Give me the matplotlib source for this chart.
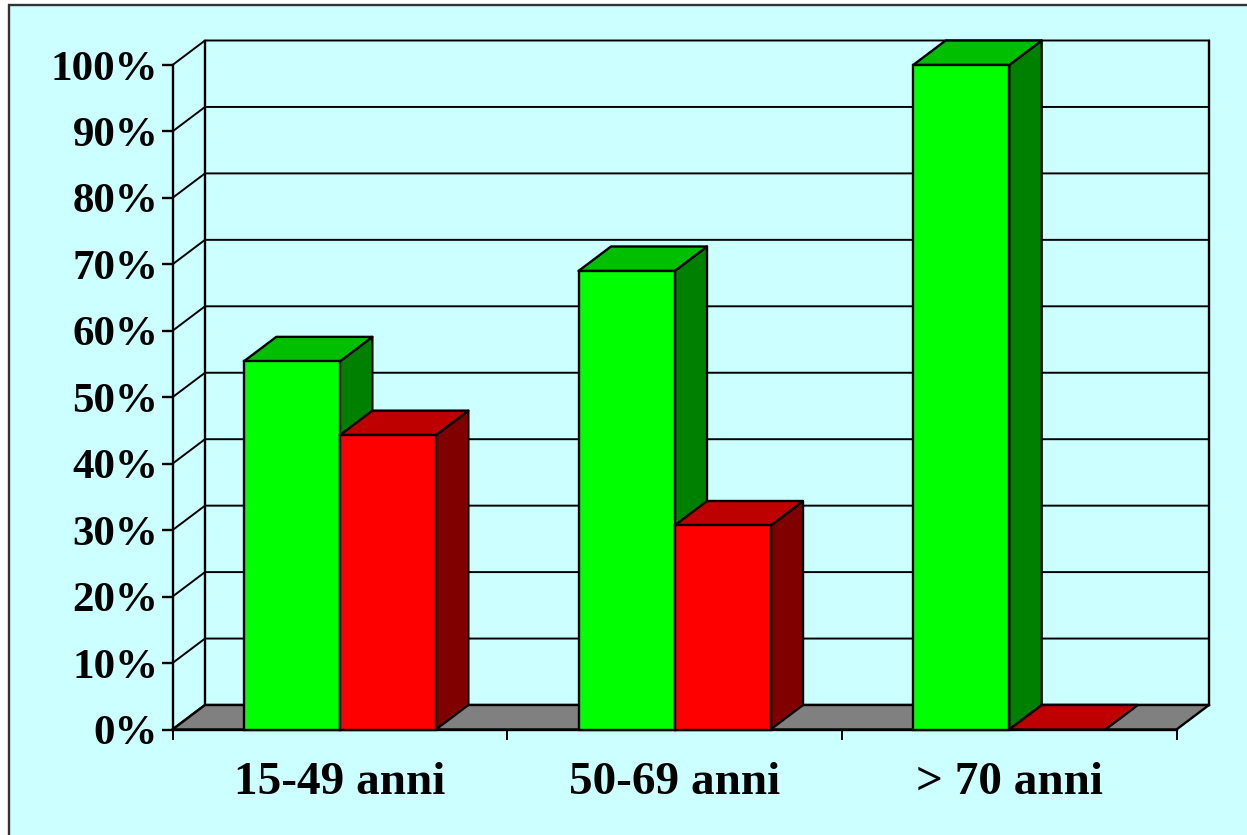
import matplotlib
matplotlib.use("Agg")
import matplotlib.pyplot as plt
from matplotlib.patches import Polygon, Rectangle

categories = ["15-49 anni", "50-69 anni", "> 70 anni"]
green_values = [55.4, 69, 100]
red_values = [44.3, 30.7, 0]
y_ticks = [0, 10, 20, 30, 40, 50, 60, 70, 80, 90, 100]
y_labels = ["0%", "10%", "20%", "30%", "40%", "50%", "60%", "70%", "80%", "90%", "100%"]

W, H = 1247, 835
L, R, B, T = 172.5, 1176.5, 729.5, 65
DX = 32.5 / (R - L) * 3      # depth of the 3D effect in data units
DY = 24.5 / (B - T) * 100
BAR = 96 / (R - L) * 3
LW = 1.7
INK = "#000000"
BG = "#CCFFFF"

plt.rcParams["font.family"] = ["Liberation Serif", "DejaVu Serif"]
plt.rcParams["font.weight"] = "bold"

fig = plt.figure(figsize=(W / 100, H / 100), dpi=100, facecolor="white")
fig.add_artist(Rectangle((8.5 / W, -0.05), 1.2, 1.05 - 5 / H, transform=fig.transFigure,
                         facecolor=BG, edgecolor="#333333", linewidth=1.7, zorder=-5))
ax = fig.add_axes([L / W, 1 - B / H, (R - L) / W, (B - T) / H])
ax.patch.set_alpha(0)
ax.set_xlim(0, 3)
ax.set_ylim(0, 100)
for s in ("top", "right"):
    ax.spines[s].set_visible(False)
for s in ("left", "bottom"):
    ax.spines[s].set_linewidth(LW)


def poly(points, face, z, lw=LW):
    ax.add_patch(Polygon(points, closed=True, facecolor=face, edgecolor=INK,
                         linewidth=lw, joinstyle="round", clip_on=False, zorder=z))


# floor, walls and gridlines
for v in y_ticks:
    ax.plot([0, DX, 3 + DX], [v, v + DY, v + DY], color=INK, lw=1.4 if v else LW,
            clip_on=False, zorder=1, solid_joinstyle="miter")
ax.plot([DX, DX], [DY, 100 + DY], color=INK, lw=LW, clip_on=False, zorder=1)
ax.plot([3 + DX, 3 + DX], [DY, 100 + DY], color=INK, lw=LW, clip_on=False, zorder=1)
poly([(0, 0), (DX, DY), (3 + DX, DY), (3, 0)], "#808080", 1.5)


def bar3d(x0, value, front, top, side, z):
    x1 = x0 + BAR
    poly([(x1, 0), (x1 + DX, DY), (x1 + DX, value + DY), (x1, value)], side, z)
    poly([(x0, value), (x0 + DX, value + DY), (x1 + DX, value + DY), (x1, value)], top, z)
    if value > 0:
        ax.bar(x0, value, BAR, align="edge", color=front, edgecolor=INK, linewidth=LW,
               clip_on=False, zorder=z + 0.1)


for i in range(len(categories)):
    centre = i + 0.5
    bar3d(centre - BAR, green_values[i], "#00FF00", "#00BF00", "#008000", 2 + i * 2)
    bar3d(centre, red_values[i], "#FF0000", "#BF0000", "#800000", 3 + i * 2)

ax.set_yticks(y_ticks, y_labels)
ax.set_xticks([0, 1, 2, 3], ["", "", "", ""])
ax.set_xticks([0.5, 1.5, 2.5], categories, minor=True)
ax.tick_params(axis="y", length=8, width=LW, pad=2.3, labelsize=31)
ax.tick_params(axis="x", which="major", length=7.5, width=1.4)
ax.tick_params(axis="x", which="minor", length=0, pad=23.5, labelsize=34)
for label in ax.get_yticklabels():
    label.set_y(label.get_position()[1])
for s in ax.spines.values():
    s.set_zorder(1.6)

fig.savefig("out.png", dpi=100, facecolor=fig.get_facecolor())
